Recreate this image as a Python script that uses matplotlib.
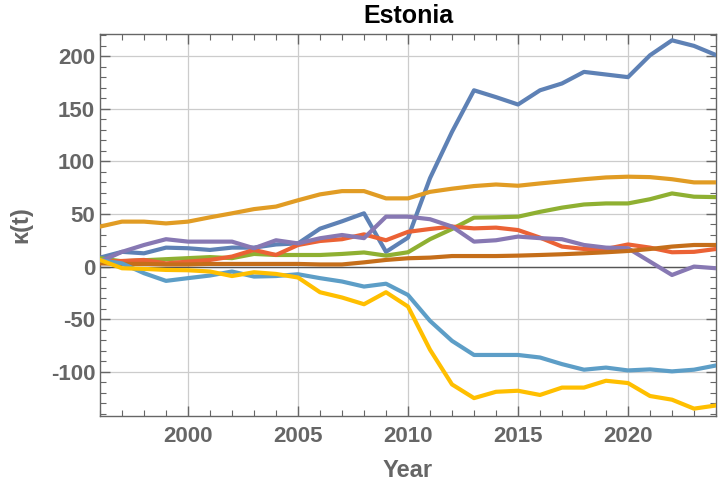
#!/usr/bin/env python3

import numpy as np
import matplotlib
matplotlib.use("Agg")
import matplotlib.pyplot as plt
from matplotlib.ticker import MultipleLocator

years = np.arange(1996, 2025)

# one series per colour, Mathematica default order
s_blue = [8.5, 14, 12.6, 18, 17.4, 15.8, 18, 18, 21, 22, 36, 43, 50.6, 14, 27.5,
          84, 128, 167.5, 161, 154, 167.5, 174, 185, 182.5, 180, 200.8, 215, 209.7, 201]
s_orange = [38, 42.7, 42.7, 41, 42.7, 46.8, 50.6, 54.6, 57, 63, 68.6, 71.7, 71.7, 64.8, 64.8,
            71, 74, 76.5, 78, 76.8, 79, 81, 83, 84.7, 85.4, 85, 83, 80, 80]
s_green = [7.9, 5, 6, 7, 8, 9, 8, 12, 11, 11, 11, 12, 13.4, 10.4, 13.6,
           26, 35.7, 46.5, 46.8, 47.4, 52, 56, 59, 60, 60, 64, 69.5, 66.4, 66]
s_red = [4.7, 5.3, 6.3, 3, 4.7, 6.3, 9.5, 15.8, 11, 20.5, 24.3, 26, 30.6, 25, 33,
         35.7, 38, 36.3, 37, 34.7, 27.5, 19, 16.7, 16.7, 21, 18, 13.6, 14, 16.7]
s_purple = [4.7, 14, 20.5, 26, 23.7, 23.7, 23.7, 17.4, 25, 22, 26.9, 30, 27, 47.4, 47.4,
            45, 38, 23.7, 25, 28.5, 27, 26, 20.5, 18, 17.4, 4.7, -8, 0, -1.6]
s_brown = [3, 2.5, 2.5, 2, 2, 2.5, 2.5, 2.5, 2.5, 2.5, 2, 2, 4, 6.3, 7.9,
           8.5, 10, 10, 10, 10.4, 11, 11.7, 12.6, 13.6, 14.8, 16.7, 19, 20.5, 20.5]
s_lightblue = [6, 3, -6.3, -13.6, -11, -8.5, -4.7, -9.5, -9, -7.3, -11, -14.2, -19, -16.3, -27,
               -51.6, -70.6, -84, -84, -84, -86.4, -92.7, -98, -96, -98.7, -97.7, -99.6, -98, -94]
s_yellow = [6.3, -1.6, -2.2, -3.2, -3.5, -4.7, -9, -5.4, -7, -10.4, -24.4, -29.4, -35.8, -24.4, -38,
            -79, -112, -125, -119, -118, -122, -115, -115, -108.5, -110.7, -123, -126.5, -135, -132]

series = [s_blue, s_orange, s_green, s_red, s_purple, s_brown, s_lightblue, s_yellow]
colors = ["#5E81B5", "#E19C24", "#8FB032", "#EB6235", "#8778B3", "#C56E1A", "#5D9EC7", "#FFBF00"]

GRAY = "#666666"


def main():
    plt.rcParams['font.family'] = ['Liberation Sans', 'DejaVu Sans']
    plt.rcParams['axes.unicode_minus'] = False
    fig = plt.figure(figsize=(7.2, 4.92), dpi=100)
    ax = fig.add_axes([100/720, 76/492, 616/720, 382/492])

    for s, c in zip(series, colors):
        ax.plot(years, s, color=c, lw=3.0, solid_joinstyle='round', zorder=3)

    ax.axhline(0, color="#555555", lw=1.0, zorder=2)

    ax.set_xlim(1996, 2024)
    ax.set_ylim(-142, 221)
    ax.xaxis.set_major_locator(MultipleLocator(5))
    ax.xaxis.set_minor_locator(MultipleLocator(1))
    ax.yaxis.set_major_locator(MultipleLocator(50))
    ax.yaxis.set_minor_locator(MultipleLocator(10))
    ax.grid(True, which='major', color="#cccccc", lw=0.9, zorder=1)

    ax.tick_params(which='both', direction='in', top=True, right=True, color=GRAY,
                   labelcolor=GRAY, labelsize=16)
    ax.tick_params(which='major', length=7, width=1)
    ax.tick_params(which='minor', length=4, width=0.8)
    ax.tick_params(axis='x', pad=7)
    for lab in ax.get_xticklabels() + ax.get_yticklabels():
        lab.set_fontweight('bold')
    for sp in ax.spines.values():
        sp.set_color(GRAY)
        sp.set_linewidth(1.0)

    ax.set_xlabel("Year", fontsize=17, fontweight='bold', color=GRAY, labelpad=9)
    ax.set_ylabel("κ(t)", fontsize=17, fontweight='bold', color=GRAY, labelpad=13)
    ax.set_title("Estonia", fontsize=18, fontweight='bold', color='black', pad=8)

    fig.savefig("out.png", dpi=100)


if __name__ == "__main__":
    main()
